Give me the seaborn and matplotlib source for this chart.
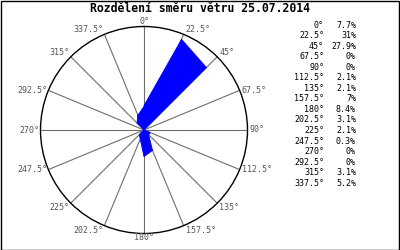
import numpy as np
import pandas as pd
import matplotlib
matplotlib.use("Agg")
import matplotlib.pyplot as plt
import seaborn as sns

directions = [0, 22.5, 45, 67.5, 90, 112.5, 135, 157.5, 180, 202.5, 225, 247.5, 270, 292.5, 315, 337.5]
percent = [7.7, 31, 27.9, 0, 0, 2.1, 2.1, 7, 8.4, 3.1, 2.1, 0.3, 0, 0, 3.1, 5.2]
title = "Rozdělení směru větru 25.07.2014"

sns.set_style("white")
plt.rcParams["font.family"] = ["DejaVu Sans Mono", "DejaVu Sans"]

W, H = 400, 250
fig = plt.figure(figsize=(4, 2.5), dpi=100)
cx, cy, R = 144, 130, 103.5
ax = fig.add_axes([(cx - R) / W, (H - cy - R) / H, 2 * R / W, 2 * R / H], projection="polar")
ax.set_theta_zero_location("N")
ax.set_theta_direction(-1)

df = pd.DataFrame({"theta": np.deg2rad(directions + [directions[0]]),
                   "r": percent + [percent[0]]})
ax.fill(df["theta"], df["r"], color="#0000FF", lw=0, zorder=3)
sns.lineplot(data=df, x="theta", y="r", sort=False, ax=ax, color="#0000FF", lw=0.6, zorder=4)

ax.set_ylim(0, 32.7)
ax.set_yticks([])
ax.set_xticks(np.deg2rad(directions))
ax.set_xticklabels([])
ax.xaxis.grid(True, color="#6e6e6e", lw=0.8)
ax.yaxis.grid(False)
ax.spines["polar"].set_color("black")
ax.spines["polar"].set_linewidth(1.0)
ax.set_xlabel("")
ax.set_ylabel("")

for d in directions:
    s, c = np.sin(np.deg2rad(d)), np.cos(np.deg2rad(d))
    ha = "left" if s > 0.01 else ("right" if s < -0.01 else "center")
    va = "bottom" if c > 0.6 else ("top" if c < -0.6 else "center")
    px = cx + R * s + (2 if ha == "left" else (-1 if ha == "right" else 0))
    py = cy - R * c
    fig.text(px / W, 1 - py / H, f"{d:g}°", ha=ha, va=va, fontsize=6, color="#555555")

fig.text(200 / W, 1 - 9 / H, title, ha="center", va="center", fontsize=8.3, fontweight="bold", color="black")

y0, dy = 25, (183.3 - 25) / 15
for i, (d, p) in enumerate(zip(directions, percent)):
    y = 1 - (y0 + i * dy) / H
    fig.text(324 / W, y, f"{d:g}°", ha="right", va="center", fontsize=6, color="black")
    fig.text(356 / W, y, f"{p:g}%", ha="right", va="center", fontsize=6, color="black")

fig.patches.append(plt.Rectangle((0.5 / W, 0.5 / H), 1 - 1.5 / W, 1 - 1.5 / H, transform=fig.transFigure,
                                 fill=False, edgecolor="black", lw=1.0))
fig.savefig("out.png", dpi=100, facecolor="white")
